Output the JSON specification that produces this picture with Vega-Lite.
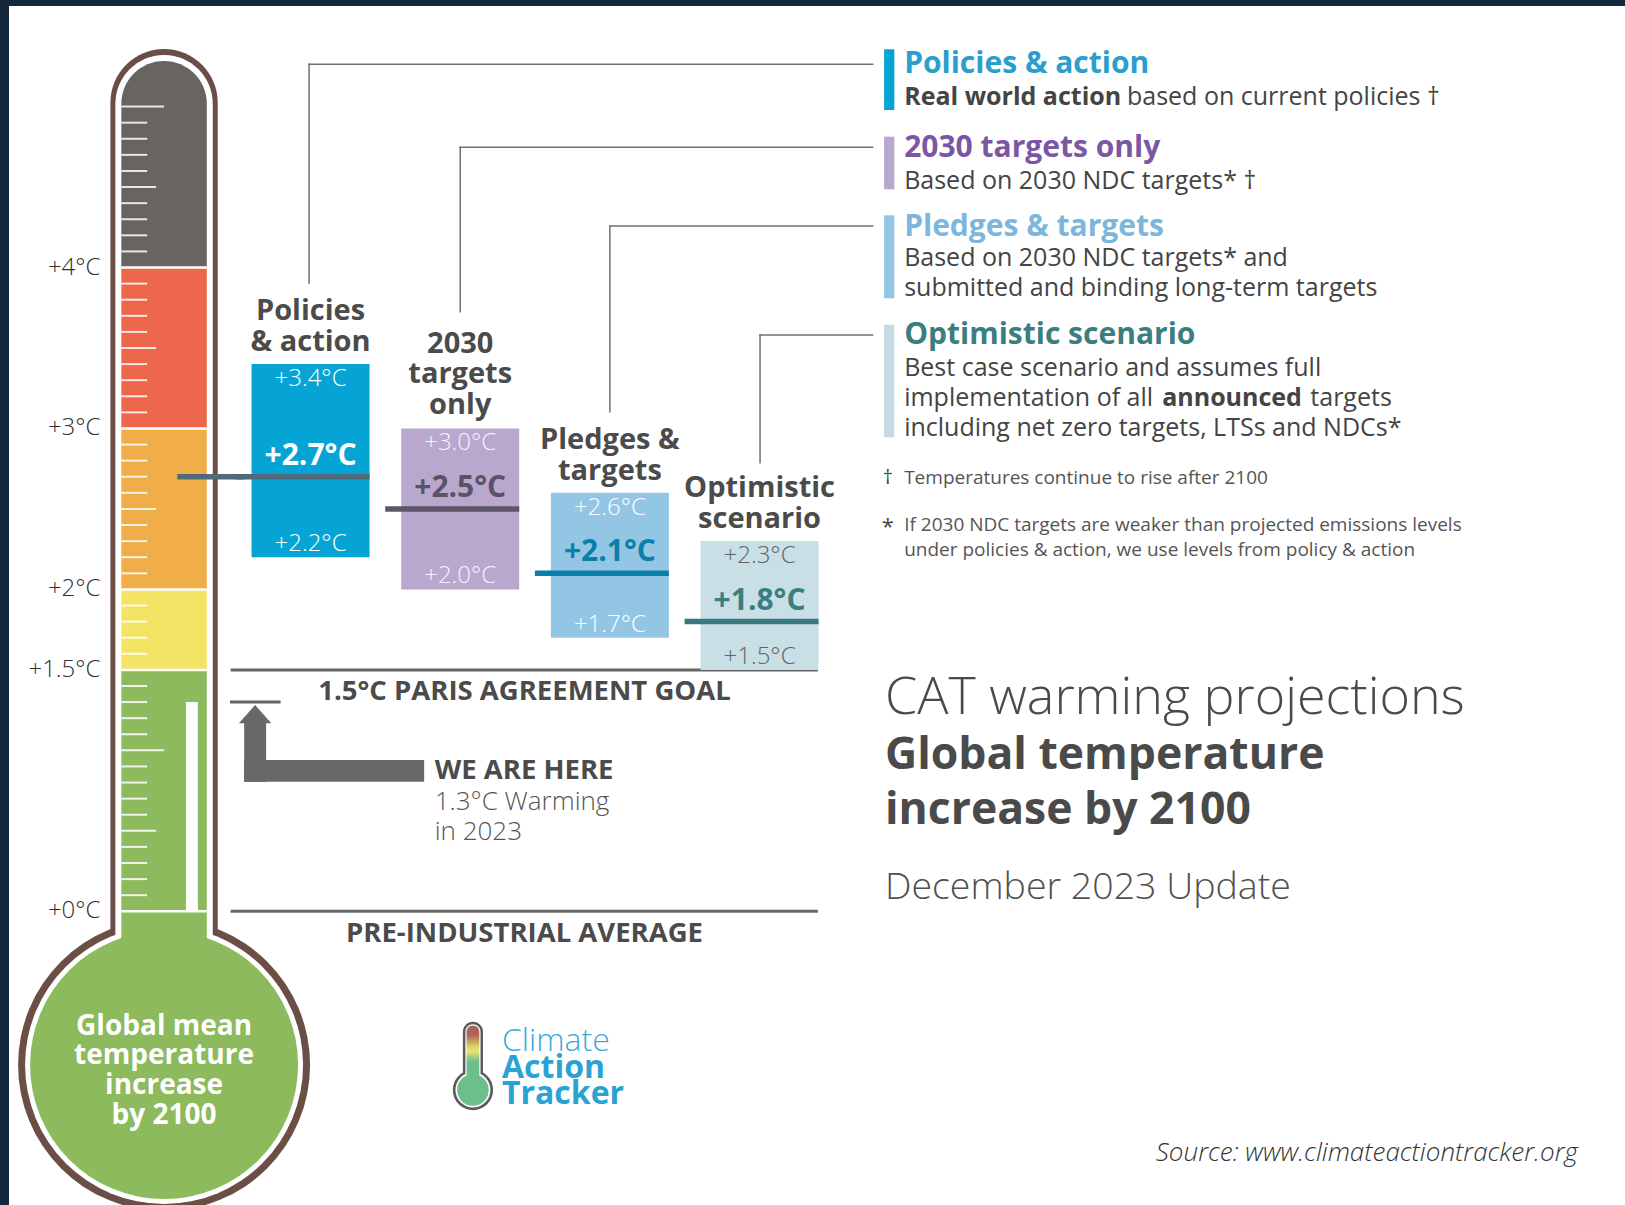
{
  "$schema": "https://vega.github.io/schema/vega-lite/v6.json",
  "width": 1625,
  "height": 1205,
  "autosize": {"type": "fit", "contains": "padding"},
  "padding": {"left": 9, "top": 6, "right": 0, "bottom": 0},
  "background": "#14273d",
  "view": {"fill": "#ffffff", "stroke": null},
  "config": {
    "font": "Open Sans",
    "axis": {"disable": true},
    "locale": {"number": {"decimal": ".", "thousands": ",", "grouping": [3], "currency": ["", "°C"]}}
  },
  "datasets": {
    "scenarios": [
      {"rank": 1, "scenario": "Policies & action", "title": "Policies\n& action", "high": 3.4, "mid": 2.7, "low": 2.2},
      {"rank": 2, "scenario": "2030 targets only", "title": "2030\ntargets\nonly", "high": 3.0, "mid": 2.5, "low": 2.0},
      {"rank": 3, "scenario": "Pledges & targets", "title": "Pledges &\ntargets", "high": 2.6, "mid": 2.1, "low": 1.7},
      {"rank": 4, "scenario": "Optimistic scenario", "title": "Optimistic\nscenario", "high": 2.3, "mid": 1.8, "low": 1.5}
    ],
    "thresholds": [{"t": 4}, {"t": 3}, {"t": 2}, {"t": 1.5}, {"t": 0}],
    "ticks": [
      {"t": 0.1, "kind": "minor"}, {"t": 0.2, "kind": "minor"}, {"t": 0.3, "kind": "minor"}, {"t": 0.4, "kind": "minor"},
      {"t": 0.5, "kind": "medium"},
      {"t": 0.6, "kind": "minor"}, {"t": 0.7, "kind": "minor"}, {"t": 0.8, "kind": "minor"}, {"t": 0.9, "kind": "minor"},
      {"t": 1.0, "kind": "long"},
      {"t": 1.1, "kind": "minor"}, {"t": 1.2, "kind": "minor"}, {"t": 1.3, "kind": "minor"}, {"t": 1.4, "kind": "minor"},
      {"t": 1.6, "kind": "minor"}, {"t": 1.7, "kind": "minor"}, {"t": 1.8, "kind": "minor"}, {"t": 1.9, "kind": "minor"},
      {"t": 2.1, "kind": "minor"}, {"t": 2.2, "kind": "minor"}, {"t": 2.3, "kind": "minor"}, {"t": 2.4, "kind": "minor"},
      {"t": 2.5, "kind": "medium"},
      {"t": 2.6, "kind": "minor"}, {"t": 2.7, "kind": "minor"}, {"t": 2.8, "kind": "minor"}, {"t": 2.9, "kind": "minor"},
      {"t": 3.1, "kind": "minor"}, {"t": 3.2, "kind": "minor"}, {"t": 3.3, "kind": "minor"}, {"t": 3.4, "kind": "minor"},
      {"t": 3.5, "kind": "medium"},
      {"t": 3.6, "kind": "minor"}, {"t": 3.7, "kind": "minor"}, {"t": 3.8, "kind": "minor"}, {"t": 3.9, "kind": "minor"},
      {"t": 4.1, "kind": "minor"}, {"t": 4.2, "kind": "minor"}, {"t": 4.3, "kind": "minor"}, {"t": 4.4, "kind": "minor"},
      {"t": 4.5, "kind": "medium"},
      {"t": 4.6, "kind": "minor"}, {"t": 4.7, "kind": "minor"}, {"t": 4.8, "kind": "minor"}, {"t": 4.9, "kind": "minor"},
      {"t": 5.0, "kind": "long"}
    ]
  },
  "data": {"values": [{}]},
  "resolve": {"scale": {"color": "independent"}},
  "layer": [
    {"mark": {"type": "point", "shape": "circle", "filled": true, "size": 85264, "color": "#6b4e46", "opacity": 1, "clip": true},
     "encoding": {"x": {"datum": 0.0213, "type": "quantitative", "scale": {"domain": [-0.9814, 9.749], "nice": false, "zero": false}},
                  "y": {"datum": -0.955, "type": "quantitative", "scale": {"domain": [-1.825, 5.625], "nice": false, "zero": false}}}},
    {"mark": {"type": "rect", "color": "#6b4e46", "cornerRadiusTopLeft": 54, "cornerRadiusTopRight": 54},
     "encoding": {"x": {"datum": -0.3373}, "x2": {"datum": 0.3798}, "y": {"datum": 5.358}, "y2": {"datum": -0.2095}}},
    {"mark": {"type": "point", "shape": "circle", "filled": true, "size": 77284, "color": "#ffffff", "opacity": 1, "clip": true},
     "encoding": {"x": {"datum": 0.0213}, "y": {"datum": -0.955}}},
    {"mark": {"type": "rect", "color": "#ffffff", "cornerRadiusTopLeft": 49, "cornerRadiusTopRight": 49},
     "encoding": {"x": {"datum": -0.3041}, "x2": {"datum": 0.3466}, "y": {"datum": 5.3205}, "y2": {"datum": -0.2095}}},
    {"mark": {"type": "point", "shape": "circle", "filled": true, "size": 71824, "color": "#8cba5d", "opacity": 1, "clip": true},
     "encoding": {"x": {"datum": 0.0213}, "y": {"datum": -0.955}}},
    {"mark": {"type": "rect", "color": "#676462", "cornerRadiusTopLeft": 43, "cornerRadiusTopRight": 43},
     "encoding": {"x": {"datum": -0.2643}, "x2": {"datum": 0.3068}, "y": {"datum": 5.2833}, "y2": {"datum": 4}}},
    {"mark": {"type": "rect", "color": "#ec674b"},
     "encoding": {"x": {"datum": -0.2643}, "x2": {"datum": 0.3068}, "y": {"datum": 4}, "y2": {"datum": 3}}},
    {"mark": {"type": "rect", "color": "#f1ae48"},
     "encoding": {"x": {"datum": -0.2643}, "x2": {"datum": 0.3068}, "y": {"datum": 3}, "y2": {"datum": 2}}},
    {"mark": {"type": "rect", "color": "#f4e466"},
     "encoding": {"x": {"datum": -0.2643}, "x2": {"datum": 0.3068}, "y": {"datum": 2}, "y2": {"datum": 1.5}}},
    {"mark": {"type": "rect", "color": "#8cba5d"},
     "encoding": {"x": {"datum": -0.2643}, "x2": {"datum": 0.3068}, "y": {"datum": 1.5}, "y2": {"datum": -0.2095}}},
    {"data": {"name": "ticks"}, "transform": [{"filter": "datum.kind === 'minor'"}],
     "mark": {"type": "rule", "color": "#ffffff", "strokeWidth": 2, "opacity": 0.85},
     "encoding": {"x": {"datum": -0.2643}, "x2": {"datum": -0.0916}, "y": {"field": "t", "type": "quantitative"}}},
    {"data": {"name": "ticks"}, "transform": [{"filter": "datum.kind === 'medium'"}],
     "mark": {"type": "rule", "color": "#ffffff", "strokeWidth": 2, "opacity": 0.85},
     "encoding": {"x": {"datum": -0.2643}, "x2": {"datum": -0.0319}, "y": {"field": "t", "type": "quantitative"}}},
    {"data": {"name": "ticks"}, "transform": [{"filter": "datum.kind === 'long'"}],
     "mark": {"type": "rule", "color": "#ffffff", "strokeWidth": 2, "opacity": 0.85},
     "encoding": {"x": {"datum": -0.2643}, "x2": {"datum": 0.0213}, "y": {"field": "t", "type": "quantitative"}}},
    {"mark": {"type": "rect", "color": "#ffffff"},
     "encoding": {"x": {"datum": 0.1673}, "x2": {"datum": 0.247}, "y": {"datum": 1.3}, "y2": {"datum": 0}}},
    {"data": {"name": "thresholds"},
     "mark": {"type": "rule", "color": "#ffffff", "strokeWidth": 2.5},
     "encoding": {"x": {"datum": -0.2643}, "x2": {"datum": 0.3068}, "y": {"field": "t", "type": "quantitative"}}},
    {"data": {"name": "thresholds"},
     "mark": {"type": "text", "align": "right", "baseline": "middle", "fontSize": 24, "fontWeight": 300, "color": "#2e2e2e"},
     "encoding": {"x": {"datum": -0.4037}, "y": {"field": "t", "type": "quantitative"}, "text": {"field": "t", "type": "quantitative", "format": "+$~g"}}},
    {"mark": {"type": "text", "align": "center", "baseline": "middle", "fontSize": 28, "fontWeight": "bold", "color": "#ffffff", "lineHeight": 29.7},
     "encoding": {"x": {"datum": 0.0213}, "y": {"datum": -0.717}, "text": {"value": ["Global mean", "temperature", "increase", "by 2100"]}}},

    {"mark": {"type": "rule", "color": "#666666", "strokeWidth": 3},
     "encoding": {"x": {"datum": 0.4661}, "x2": {"datum": 4.3898}, "y": {"datum": 1.5}}},
    {"mark": {"type": "rule", "color": "#666666", "strokeWidth": 3},
     "encoding": {"x": {"datum": 0.4661}, "x2": {"datum": 4.3898}, "y": {"datum": 0}}},
    {"mark": {"type": "rule", "color": "#666666", "strokeWidth": 3},
     "encoding": {"x": {"datum": 0.4615}, "x2": {"datum": 0.8001}, "y": {"datum": 1.3}}},
    {"mark": {"type": "rect", "color": "#686868"},
     "encoding": {"x": {"datum": 0.5565}, "x2": {"datum": 0.7032}, "y": {"datum": 1.1761}, "y2": {"datum": 0.8052}}},
    {"mark": {"type": "rect", "color": "#686868"},
     "encoding": {"x": {"datum": 0.5565}, "x2": {"datum": 1.759}, "y": {"datum": 0.94}, "y2": {"datum": 0.8052}}},
    {"mark": {"type": "point", "shape": "M0,-0.565L1,0.565L-1,0.565Z", "filled": true, "size": 1050, "color": "#686868", "opacity": 1},
     "encoding": {"x": {"datum": 0.6295}, "y": {"datum": 1.2256}}},
    {"mark": {"type": "text", "align": "center", "baseline": "middle", "fontSize": 27.5, "fontWeight": "bold", "color": "#4b4b4b"},
     "encoding": {"x": {"datum": 2.4296}, "y": {"datum": 1.3644}, "text": {"value": "1.5°C PARIS AGREEMENT GOAL"}}},
    {"mark": {"type": "text", "align": "center", "baseline": "middle", "fontSize": 27.5, "fontWeight": "bold", "color": "#4b4b4b"},
     "encoding": {"x": {"datum": 2.4296}, "y": {"datum": -0.1424}, "text": {"value": "PRE-INDUSTRIAL AVERAGE"}}},
    {"mark": {"type": "text", "align": "left", "baseline": "middle", "fontSize": 27.5, "fontWeight": "bold", "color": "#4b4b4b"},
     "encoding": {"x": {"datum": 1.8294}, "y": {"datum": 0.8729}, "text": {"value": "WE ARE HERE"}}},
    {"mark": {"type": "text", "align": "left", "baseline": "middle", "fontSize": 26, "fontWeight": 300, "color": "#555555", "lineHeight": 30.8},
     "encoding": {"x": {"datum": 1.8294}, "y": {"datum": 0.6809}, "text": {"value": ["1.3°C Warming", "in 2023"]}}},

    {"mark": {"type": "rule", "color": "#707070", "strokeWidth": 1.5, "strokeCap": "square"},
     "encoding": {"x": {"datum": 0.99}, "y": {"datum": 3.9039}, "y2": {"datum": 5.2628}}},
    {"mark": {"type": "rule", "color": "#707070", "strokeWidth": 1.5, "strokeCap": "square"},
     "encoding": {"x": {"datum": 0.99}, "x2": {"datum": 4.7557}, "y": {"datum": 5.2628}}},
    {"mark": {"type": "rule", "color": "#707070", "strokeWidth": 1.5, "strokeCap": "square"},
     "encoding": {"x": {"datum": 2.0}, "y": {"datum": 3.7255}, "y2": {"datum": 4.747}}},
    {"mark": {"type": "rule", "color": "#707070", "strokeWidth": 1.5, "strokeCap": "square"},
     "encoding": {"x": {"datum": 2.0}, "x2": {"datum": 4.7557}, "y": {"datum": 4.747}}},
    {"mark": {"type": "rule", "color": "#707070", "strokeWidth": 1.5, "strokeCap": "square"},
     "encoding": {"x": {"datum": 3.0}, "y": {"datum": 3.1042}, "y2": {"datum": 4.258}}},
    {"mark": {"type": "rule", "color": "#707070", "strokeWidth": 1.5, "strokeCap": "square"},
     "encoding": {"x": {"datum": 3.0}, "x2": {"datum": 4.7557}, "y": {"datum": 4.258}}},
    {"mark": {"type": "rule", "color": "#707070", "strokeWidth": 1.5, "strokeCap": "square"},
     "encoding": {"x": {"datum": 4.0033}, "y": {"datum": 2.7873}, "y2": {"datum": 3.5808}}},
    {"mark": {"type": "rule", "color": "#707070", "strokeWidth": 1.5, "strokeCap": "square"},
     "encoding": {"x": {"datum": 4.0033}, "x2": {"datum": 4.7557}, "y": {"datum": 3.5808}}},

    {"data": {"name": "scenarios"},
     "mark": {"type": "bar", "width": 118, "opacity": 1},
     "encoding": {"x": {"field": "rank", "type": "quantitative"}, "y": {"field": "high", "type": "quantitative"}, "y2": {"field": "low"},
                  "color": {"field": "scenario", "type": "nominal", "legend": null,
                            "scale": {"domain": ["Policies & action", "2030 targets only", "Pledges & targets", "Optimistic scenario"], "range": ["#06a4d4", "#b9a8ce", "#93c6e5", "#c9dfe6"]}}}},
    {"data": {"name": "scenarios"},
     "mark": {"type": "tick", "orient": "horizontal", "size": 134, "thickness": 5.5, "xOffset": -8, "opacity": 1},
     "encoding": {"x": {"field": "rank", "type": "quantitative"}, "y": {"field": "mid", "type": "quantitative"},
                  "color": {"field": "scenario", "type": "nominal", "legend": null,
                            "scale": {"domain": ["Policies & action", "2030 targets only", "Pledges & targets", "Optimistic scenario"], "range": ["#4e6a7b", "#5d5569", "#0b7fa9", "#37797c"]}}}},
    {"mark": {"type": "rule", "color": "#4e6a7b", "strokeWidth": 5.5},
     "encoding": {"x": {"datum": 0.1096}, "x2": {"datum": 0.56}, "y": {"datum": 2.7}}},
    {"data": {"name": "scenarios"},
     "mark": {"type": "text", "align": "center", "baseline": "middle", "dy": 15, "fontSize": 24, "fontWeight": 300},
     "encoding": {"x": {"field": "rank", "type": "quantitative"}, "y": {"field": "high", "type": "quantitative"},
                  "text": {"field": "high", "type": "quantitative", "format": "+$.1f"},
                  "color": {"field": "scenario", "type": "nominal", "legend": null,
                            "scale": {"domain": ["Policies & action", "2030 targets only", "Pledges & targets", "Optimistic scenario"], "range": ["#ffffff", "#f6f2fa", "#ffffff", "#5f6567"]}}}},
    {"data": {"name": "scenarios"},
     "mark": {"type": "text", "align": "center", "baseline": "middle", "dy": -21, "fontSize": 30, "fontWeight": "bold"},
     "encoding": {"x": {"field": "rank", "type": "quantitative"}, "y": {"field": "mid", "type": "quantitative"},
                  "text": {"field": "mid", "type": "quantitative", "format": "+$.1f"},
                  "color": {"field": "scenario", "type": "nominal", "legend": null,
                            "scale": {"domain": ["Policies & action", "2030 targets only", "Pledges & targets", "Optimistic scenario"], "range": ["#ffffff", "#5a5266", "#0a7fa9", "#3a7e80"]}}}},
    {"data": {"name": "scenarios"},
     "mark": {"type": "text", "align": "center", "baseline": "middle", "dy": -13, "fontSize": 24, "fontWeight": 300},
     "encoding": {"x": {"field": "rank", "type": "quantitative"}, "y": {"field": "low", "type": "quantitative"},
                  "text": {"field": "low", "type": "quantitative", "format": "+$.1f"},
                  "color": {"field": "scenario", "type": "nominal", "legend": null,
                            "scale": {"domain": ["Policies & action", "2030 targets only", "Pledges & targets", "Optimistic scenario"], "range": ["#ffffff", "#f6f2fa", "#ffffff", "#5f6567"]}}}},
    {"data": {"name": "scenarios"}, "transform": [{"filter": "datum.rank !== 2"}],
     "mark": {"type": "text", "align": "center", "baseline": "middle", "lineBreak": "\n", "lineHeight": 31, "dy": -53, "fontSize": 29, "fontWeight": "bold", "color": "#4b4b4b"},
     "encoding": {"x": {"field": "rank", "type": "quantitative"}, "y": {"field": "high", "type": "quantitative"}, "text": {"field": "title", "type": "nominal"}}},
    {"data": {"name": "scenarios"}, "transform": [{"filter": "datum.rank === 2"}],
     "mark": {"type": "text", "align": "center", "baseline": "middle", "lineBreak": "\n", "lineHeight": 30.5, "dy": -84.5, "fontSize": 29, "fontWeight": "bold", "color": "#4b4b4b"},
     "encoding": {"x": {"field": "rank", "type": "quantitative"}, "y": {"field": "high", "type": "quantitative"}, "text": {"field": "title", "type": "nominal"}}},

    {"mark": {"type": "rect", "color": "#06a4d4"},
     "encoding": {"x": {"datum": 4.832}, "x2": {"datum": 4.9004}, "y": {"datum": 5.356}, "y2": {"datum": 4.9788}}},
    {"mark": {"type": "rect", "color": "#b9a8ce"},
     "encoding": {"x": {"datum": 4.832}, "x2": {"datum": 4.9004}, "y": {"datum": 4.8129}, "y2": {"datum": 4.4861}}},
    {"mark": {"type": "rect", "color": "#93c6e5"},
     "encoding": {"x": {"datum": 4.832}, "x2": {"datum": 4.9004}, "y": {"datum": 4.3245}, "y2": {"datum": 3.8088}}},
    {"mark": {"type": "rect", "color": "#c3dbe2"},
     "encoding": {"x": {"datum": 4.832}, "x2": {"datum": 4.9004}, "y": {"datum": 3.6448}, "y2": {"datum": 2.9451}}},
    {"mark": {"type": "text", "align": "left", "baseline": "middle", "fontSize": 30, "fontWeight": "bold", "color": "#2a9ecd"},
     "encoding": {"x": {"datum": 4.9661}, "y": {"datum": 5.2659}, "text": {"value": "Policies & action"}}},
    {"mark": {"type": "text", "align": "left", "baseline": "middle", "fontSize": 25, "fontWeight": "bold", "color": "#444444"},
     "encoding": {"x": {"datum": 4.9661}, "y": {"datum": 5.0614}, "text": {"value": "Real world action"}}},
    {"mark": {"type": "text", "align": "left", "baseline": "middle", "fontSize": 25, "color": "#444444"},
     "encoding": {"x": {"datum": 6.4549}, "y": {"datum": 5.0614}, "text": {"value": "based on current policies †"}}},
    {"mark": {"type": "text", "align": "left", "baseline": "middle", "fontSize": 30, "fontWeight": "bold", "color": "#7a56a5"},
     "encoding": {"x": {"datum": 4.9661}, "y": {"datum": 4.7427}, "text": {"value": "2030 targets only"}}},
    {"mark": {"type": "text", "align": "left", "baseline": "middle", "fontSize": 25, "color": "#444444"},
     "encoding": {"x": {"datum": 4.9661}, "y": {"datum": 4.5389}, "text": {"value": "Based on 2030 NDC targets* †"}}},
    {"mark": {"type": "text", "align": "left", "baseline": "middle", "fontSize": 30, "fontWeight": "bold", "color": "#7ab6dd"},
     "encoding": {"x": {"datum": 4.9661}, "y": {"datum": 4.2531}, "text": {"value": "Pledges & targets"}}},
    {"mark": {"type": "text", "align": "left", "baseline": "middle", "fontSize": 25, "color": "#444444", "lineHeight": 30},
     "encoding": {"x": {"datum": 4.9661}, "y": {"datum": 4.0573}, "text": {"value": ["Based on 2030 NDC targets* and", "submitted and binding long-term targets"]}}},
    {"mark": {"type": "text", "align": "left", "baseline": "middle", "fontSize": 30, "fontWeight": "bold", "color": "#3a7e80"},
     "encoding": {"x": {"datum": 4.9661}, "y": {"datum": 3.5808}, "text": {"value": "Optimistic scenario"}}},
    {"mark": {"type": "text", "align": "left", "baseline": "middle", "fontSize": 25, "color": "#444444"},
     "encoding": {"x": {"datum": 4.9661}, "y": {"datum": 3.3757}, "text": {"value": "Best case scenario and assumes full"}}},
    {"mark": {"type": "text", "align": "left", "baseline": "middle", "fontSize": 25, "color": "#444444"},
     "encoding": {"x": {"datum": 4.9661}, "y": {"datum": 3.1893}, "text": {"value": "implementation of all"}}},
    {"mark": {"type": "text", "align": "left", "baseline": "middle", "fontSize": 25, "fontWeight": "bold", "color": "#444444"},
     "encoding": {"x": {"datum": 6.69}, "y": {"datum": 3.1893}, "text": {"value": "announced"}}},
    {"mark": {"type": "text", "align": "left", "baseline": "middle", "fontSize": 25, "color": "#444444"},
     "encoding": {"x": {"datum": 7.68}, "y": {"datum": 3.1893}, "text": {"value": "targets"}}},
    {"mark": {"type": "text", "align": "left", "baseline": "middle", "fontSize": 25, "color": "#444444"},
     "encoding": {"x": {"datum": 4.9661}, "y": {"datum": 3.0029}, "text": {"value": "including net zero targets, LTSs and NDCs*"}}},
    {"mark": {"type": "text", "align": "center", "baseline": "middle", "fontSize": 20, "color": "#444444"},
     "encoding": {"x": {"datum": 4.8566}, "y": {"datum": 2.6922}, "text": {"value": "†"}}},
    {"mark": {"type": "text", "align": "left", "baseline": "middle", "fontSize": 19, "color": "#555555"},
     "encoding": {"x": {"datum": 4.9661}, "y": {"datum": 2.6922}, "text": {"value": "Temperatures continue to rise after 2100"}}},
    {"mark": {"type": "text", "align": "center", "baseline": "middle", "fontSize": 22, "color": "#444444"},
     "encoding": {"x": {"datum": 4.8566}, "y": {"datum": 2.39}, "text": {"value": "*"}}},
    {"mark": {"type": "text", "align": "left", "baseline": "middle", "fontSize": 19, "color": "#555555", "lineHeight": 25},
     "encoding": {"x": {"datum": 4.9661}, "y": {"datum": 2.4002}, "text": {"value": ["If 2030 NDC targets are weaker than projected emissions levels", "under policies & action, we use levels from policy & action"]}}},

    {"mark": {"type": "text", "align": "left", "baseline": "middle", "fontSize": 52, "fontWeight": 300, "color": "#4a4a4a"},
     "encoding": {"x": {"datum": 4.838}, "y": {"datum": 1.3265}, "text": {"value": "CAT warming projections"}}},
    {"mark": {"type": "text", "align": "left", "baseline": "middle", "fontSize": 44.5, "fontWeight": "bold", "color": "#4a4a4a", "lineHeight": 55},
     "encoding": {"x": {"datum": 4.838}, "y": {"datum": 0.9636}, "text": {"value": ["Global temperature", "increase by 2100"]}}},
    {"mark": {"type": "text", "align": "left", "baseline": "middle", "fontSize": 37.5, "fontWeight": 300, "color": "#505050"},
     "encoding": {"x": {"datum": 4.838}, "y": {"datum": 0.1447}, "text": {"value": "December 2023 Update"}}},
    {"mark": {"type": "text", "align": "right", "baseline": "middle", "fontSize": 26, "fontWeight": 300, "fontStyle": "italic", "color": "#333333"},
     "encoding": {"x": {"datum": 9.4675}, "y": {"datum": -1.4994}, "text": {"value": "Source: www.climateactiontracker.org"}}},

    {"mark": {"type": "point", "shape": "circle", "filled": true, "size": 1624, "color": "#5b5b5b", "opacity": 1},
     "encoding": {"x": {"datum": 2.085}, "y": {"datum": -1.1104}}},
    {"mark": {"type": "rect", "color": "#5b5b5b", "cornerRadiusTopLeft": 10, "cornerRadiusTopRight": 10},
     "encoding": {"x": {"datum": 2.0179}, "x2": {"datum": 2.1521}, "y": {"datum": -0.6861}, "y2": {"datum": -1.0359}}},
    {"mark": {"type": "point", "shape": "circle", "filled": true, "size": 1225, "color": "#ffffff", "opacity": 1},
     "encoding": {"x": {"datum": 2.085}, "y": {"datum": -1.1104}}},
    {"mark": {"type": "rect", "color": "#ffffff", "cornerRadiusTopLeft": 7.6, "cornerRadiusTopRight": 7.6},
     "encoding": {"x": {"datum": 2.0345}, "x2": {"datum": 2.1355}, "y": {"datum": -0.7016}, "y2": {"datum": -1.0359}}},
    {"mark": {"type": "point", "shape": "circle", "filled": true, "size": 992, "color": "#6cbe8b", "opacity": 1},
     "encoding": {"x": {"datum": 2.085}, "y": {"datum": -1.1104}}},
    {"mark": {"type": "rect", "cornerRadiusTopLeft": 6.4, "cornerRadiusTopRight": 6.4,
              "fill": {"gradient": "linear", "x1": 0, "y1": 0, "x2": 0, "y2": 1,
                       "stops": [{"offset": 0, "color": "#aa5d57"}, {"offset": 0.18, "color": "#b1655a"}, {"offset": 0.38, "color": "#d8cf6a"}, {"offset": 0.47, "color": "#eee66e"}, {"offset": 0.6, "color": "#8fc888"}, {"offset": 0.68, "color": "#6cbe8b"}, {"offset": 1, "color": "#6cbe8b"}]}},
     "encoding": {"x": {"datum": 2.0425}, "x2": {"datum": 2.1275}, "y": {"datum": -0.709}, "y2": {"datum": -1.0483}}},
    {"mark": {"type": "text", "align": "left", "baseline": "middle", "fontSize": 32, "fontWeight": 300, "color": "#3aaad9"},
     "encoding": {"x": {"datum": 2.2789}, "y": {"datum": -0.8047}, "text": {"value": "Climate"}}},
    {"mark": {"type": "text", "align": "left", "baseline": "middle", "fontSize": 32, "fontWeight": "bold", "color": "#2aa3d4"},
     "encoding": {"x": {"datum": 2.2789}, "y": {"datum": -0.9725}, "text": {"value": "Action"}}},
    {"mark": {"type": "text", "align": "left", "baseline": "middle", "fontSize": 32, "fontWeight": "bold", "color": "#2aa3d4"},
     "encoding": {"x": {"datum": 2.2789}, "y": {"datum": -1.1353}, "text": {"value": "Tracker"}}}
  ]
}
